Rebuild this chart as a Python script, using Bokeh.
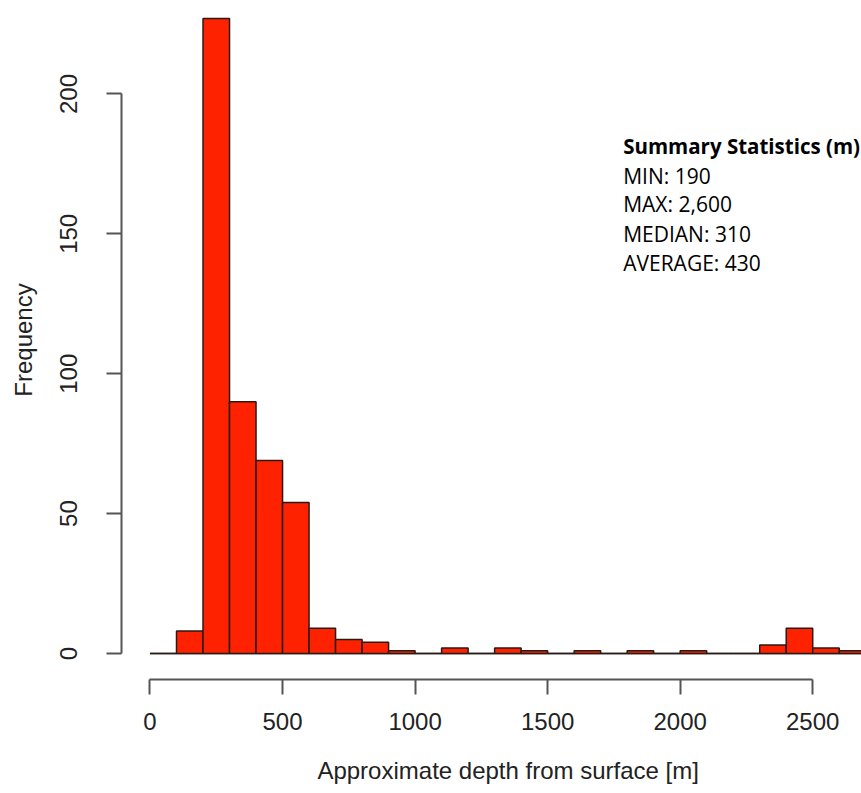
from bokeh.plotting import figure
from bokeh.models import Range1d, FixedTicker, Label, ColumnDataSource
from bokeh.embed import file_html
from bokeh.resources import INLINE

# Histogram data (bins of 100 m)
bin_left = [0, 100, 200, 300, 400, 500, 600, 700, 800, 900, 1000, 1100, 1200, 1300,
            1400, 1500, 1600, 1700, 1800, 1900, 2000, 2100, 2200, 2300, 2400, 2500, 2600]
bin_right = [b + 100 for b in bin_left]
counts = [0, 8, 227, 90, 69, 54, 9, 5, 4, 1, 0, 2, 0, 2,
          1, 0, 1, 0, 1, 0, 1, 0, 0, 3, 9, 2, 1]

x_ticks = [0, 500, 1000, 1500, 2000, 2500]
y_ticks = [0, 50, 100, 150, 200]

x_title = "Approximate depth from surface [m]"
y_title = "Frequency"
stats_title = "Summary Statistics (m)"
stats_lines = ["MIN: 190", "MAX: 2,600", "MEDIAN: 310", "AVERAGE: 430"]

src = ColumnDataSource(dict(left=bin_left, right=bin_right, top=counts,
                            bottom=[0] * len(counts)))

p = figure(width=861, height=793, output_backend="svg", toolbar_location=None,
           x_range=Range1d(-107.5, 2684), y_range=Range1d(-9.3, 233.4),
           min_border_left=121, min_border_right=0, min_border_top=0,
           min_border_bottom=114)
p.outline_line_color = None
p.grid.visible = False
p.background_fill_color = "white"
p.border_fill_color = "white"

# zero-count baseline (R draws zero-height bars as lines)
p.segment(x0="left", y0="bottom", x1="right", y1="bottom", source=src,
          line_color="#2a2a2a", line_width=1.5)
p.quad(left="left", right="right", top="top", bottom="bottom", source=src,
       fill_color="#ff2200", line_color="#2a1a16", line_width=1.5)

font = "Liberation Sans"
for ax, ticks in ((p.xaxis[0], x_ticks), (p.yaxis[0], y_ticks)):
    ax.ticker = FixedTicker(ticks=ticks)
    ax.bounds = (ticks[0], ticks[-1])
    ax.axis_line_color = "#555555"
    ax.axis_line_width = 2
    ax.major_tick_line_color = "#555555"
    ax.major_tick_line_width = 2
    ax.major_tick_out = 15
    ax.major_tick_in = 0
    ax.minor_tick_out = 0
    ax.minor_tick_in = 0
    ax.major_label_text_font = font
    ax.major_label_text_font_size = "24px"
    ax.major_label_text_color = "#222222"
    ax.axis_label_text_font = font
    ax.axis_label_text_font_size = "24px"
    ax.axis_label_text_font_style = "normal"
    ax.axis_label_text_color = "#222222"

p.xaxis.major_label_standoff = 18
# R centres the x title on the full (uncropped) plot region, which lies right
# of this cropped frame's centre: pad with no-break spaces to shift it
p.xaxis.axis_label = "\u00a0" * 5 + x_title
p.xaxis.axis_label_standoff = 24
p.yaxis.major_label_orientation = "parallel"
p.yaxis.major_label_standoff = 29
p.yaxis.axis_label = y_title
p.yaxis.axis_label_standoff = 21

# Summary statistics annotation
tx = 1785
p.add_layout(Label(x=tx, y=181.5, text=stats_title, text_font="Open Sans",
                   text_font_style="bold", text_font_size="20.5px",
                   text_color="black", text_baseline="alphabetic"))
line_y = [170.8, 160.5, 149.8, 139.5]
for yy, t in zip(line_y, stats_lines):
    p.add_layout(Label(x=tx, y=yy, text=t, text_font="Open Sans",
                       text_font_size="21px", text_color="black",
                       text_baseline="alphabetic"))

open("out.html", "w").write(file_html(p, INLINE))
